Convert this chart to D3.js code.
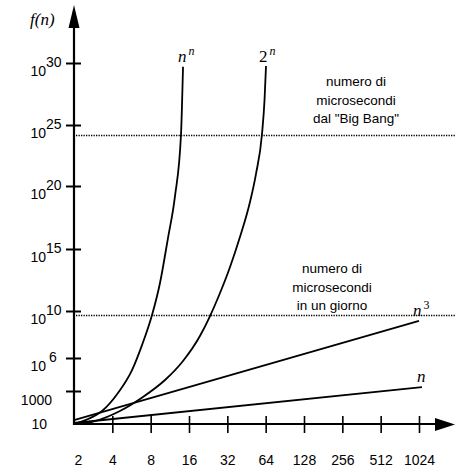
<!DOCTYPE html>
<html>
<head>
<meta charset="utf-8">
<script src="https://cdn.jsdelivr.net/npm/d3@7"></script>
<style>
body { margin: 0; background: #fff; }
text { fill: #000; }
</style>
</head>
<body>
<script>
// axis ticks
var xTicks = [2, 4, 8, 16, 32, 64, 128, 256, 512, 1024];
var yTickExp = [1, 3, 6, 10, 15, 20, 25, 30];
var yTickBase = ['10', '1000', '10', '10', '10', '10', '10', '10'];
var yTickSup = ['', '', '6', '10', '15', '20', '25', '30'];

// curves: n and the exponent of 10 of f(n)
var nnN = [2, 2.58, 3.32, 4.43, 5.71, 6.84, 8.2, 9.47, 10.94, 12.42, 13.85, 14.36];
var nnExp = [1.0, 1.3, 1.79, 2.88, 4.9, 7.1, 9.66, 12.26, 15.87, 19.2, 24.26, 29.7];
var twoN = [2, 2.92, 4.59, 6.96, 10.37, 14.36, 19.5, 23.4, 27.0, 33.6, 40.2, 48.2, 53.7, 59.9, 62.7, 64.4];
var twoExp = [1.0, 1.18, 1.79, 2.64, 4.0, 5.73, 7.87, 9.57, 11.05, 13.55, 15.95, 18.73, 20.98, 24.26, 27.02, 29.76];
var cubeN = [2, 1024];
var cubeExp = [1.24, 9.15];
var linN = [2, 1080];
var linExp = [1.06, 3.36];

// reference levels (exponent of 10)
var bigBangExp = 24.2;
var dayExp = 9.7;

var w = 455;
var h = 468;

var svg = d3.select('body').append('svg')
            .attr('width', w)
            .attr('height', h);

var x = d3.scaleLog()
          .base(2)
          .domain([2, 1024])
          .range([74, 419]);

// the drawing's vertical axis is not evenly spaced, so piecewise
var y = d3.scaleLinear()
          .domain(yTickExp)
          .range([424, 391, 358, 311, 249, 186, 125, 63]);

var line = d3.line()
             .x(function(d){ return x(d[0]); })
             .y(function(d){ return y(d[1]); })
             .curve(d3.curveMonotoneX);

function pairs(a, b){
  return a.map(function(v, i){ return [v, b[i]]; });
}

// dotted reference lines
[bigBangExp, dayExp].forEach(function(e){
  svg.append('line')
     .attr('x1', 76).attr('x2', w)
     .attr('y1', Math.round(y(e)) + 0.5).attr('y2', Math.round(y(e)) + 0.5)
     .attr('stroke', '#000')
     .attr('stroke-width', 1.4)
     .attr('stroke-dasharray', '1.3,1.2');
});

// curves
[[nnN, nnExp], [twoN, twoExp], [cubeN, cubeExp], [linN, linExp]].forEach(function(s){
  svg.append('path')
     .datum(pairs(s[0], s[1]))
     .attr('d', line)
     .attr('fill', 'none')
     .attr('stroke', '#000')
     .attr('stroke-width', 1.8);
});

// x axis
var xAxis = d3.axisBottom(x)
              .tickValues(xTicks)
              .tickFormat(d3.format('d'))
              .tickSize(9)
              .tickPadding(28);

var gx = svg.append('g')
            .attr('transform', 'translate(0,424)')
            .call(xAxis);
gx.select('.domain').remove();
gx.selectAll('.tick line')
  .attr('y1', -8)
  .attr('stroke', '#000')
  .attr('stroke-width', 1.6)
  .style('display', function(d){ return d === 2 ? 'none' : null; });
gx.selectAll('.tick text')
  .attr('dy', null)
  .attr('y', 41)
  .attr('dx', function(d){ return d === 2 ? 4 : 0; })
  .style('font-family', '"Liberation Sans", Arial, sans-serif')
  .style('font-size', '14px');

svg.append('line')
   .attr('x1', 73).attr('x2', 436)
   .attr('y1', 424).attr('y2', 424)
   .attr('stroke', '#000').attr('stroke-width', 2.2);
svg.append('path')
   .attr('d', 'M435,418L455,424.5L435,431Z')
   .attr('fill', '#000');

// y axis
var yAxis = d3.axisLeft(y)
              .tickValues(yTickExp.slice(1))
              .tickSize(8)
              .tickFormat('');

var gy = svg.append('g')
            .attr('transform', 'translate(74,0)')
            .call(yAxis);
gy.select('.domain').remove();
gy.selectAll('.tick line')
  .attr('x1', 7)
  .attr('stroke', '#000')
  .attr('stroke-width', 2);

svg.append('line')
   .attr('x1', 74).attr('x2', 74)
   .attr('y1', 425).attr('y2', 25)
   .attr('stroke', '#000').attr('stroke-width', 2.2);
svg.append('path')
   .attr('d', 'M68.5,28L74,5L79.5,28Z')
   .attr('fill', '#000');

// y tick labels
var sans = '"Liberation Sans", Arial, sans-serif';
var serif = '"Liberation Serif", "Times New Roman", serif';

yTickExp.forEach(function(e, i){
  var ty = y(e);
  if (yTickSup[i] === '') {
    svg.append('text')
       .attr('x', e === 1 ? 47 : 52)
       .attr('y', e === 1 ? ty + 5 : ty + 14)
       .attr('text-anchor', 'end')
       .style('font-family', sans)
       .style('font-size', '14px')
       .text(yTickBase[i]);
  } else {
    var gap = yTickSup[i].length === 1 ? 3 : 0;
    svg.append('text')
       .attr('x', 46)
       .attr('y', ty + 13)
       .attr('text-anchor', 'end')
       .style('font-family', sans)
       .style('font-size', '14px')
       .text(yTickBase[i]);
    svg.append('text')
       .attr('x', 46 + gap)
       .attr('y', ty + 4)
       .style('font-family', sans)
       .style('font-size', '14px')
       .text(yTickSup[i]);
  }
});

// axis title
svg.append('text')
   .attr('x', 30).attr('y', 25)
   .style('font-family', serif)
   .style('font-style', 'italic')
   .style('font-size', '17px')
   .text('f(n)');

// curve labels
function supLabel(bx, by, base, sup, italicBase){
  var t = svg.append('text')
             .attr('x', bx).attr('y', by)
             .style('font-family', serif)
             .style('font-size', '17px');
  t.append('tspan')
   .style('font-style', italicBase ? 'italic' : 'normal')
   .text(base);
  t.append('tspan')
   .attr('dx', 2)
   .attr('dy', -7)
   .style('font-size', '12px')
   .style('font-style', sup === '3' ? 'normal' : 'italic')
   .text(sup);
}
supLabel(178, 62, 'n', 'n', true);
supLabel(259, 62, '2', 'n', false);
supLabel(413, 316, 'n', '3', true);

svg.append('text')
   .attr('x', 417).attr('y', 382)
   .style('font-family', serif)
   .style('font-style', 'italic')
   .style('font-size', '17px')
   .text('n');

// annotations
function block(cx, y0, lines){
  lines.forEach(function(s, i){
    svg.append('text')
       .attr('x', cx)
       .attr('y', y0 + i * 18.5)
       .attr('text-anchor', 'middle')
       .style('font-family', sans)
       .style('font-size', '13.5px')
       .text(s);
  });
}
block(356, 86, ['numero di', 'microsecondi', 'dal "Big Bang"']);
block(332, 273, ['numero di', 'microsecondi', 'in un giorno']);
</script>
</body>
</html>
